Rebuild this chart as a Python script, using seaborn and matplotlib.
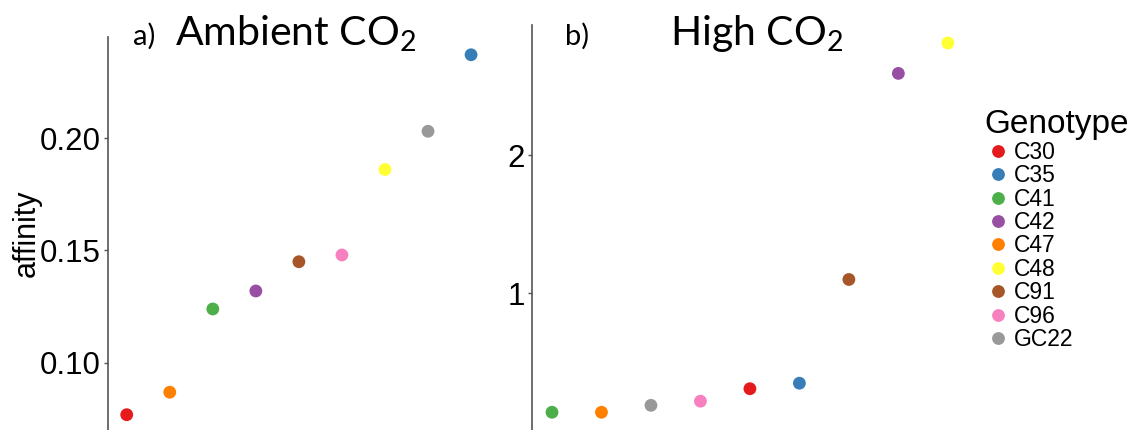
import seaborn as sns
import matplotlib.pyplot as plt
import pandas as pd

# --------------------
# Data
# --------------------
genotypes = ["C30", "C35", "C41", "C42", "C47", "C48", "C91", "C96", "GC22"]
ambient = [0.077, 0.237, 0.124, 0.132, 0.087, 0.186, 0.145, 0.148, 0.203]
high = [0.31, 0.35, 0.14, 2.59, 0.14, 2.81, 1.10, 0.22, 0.19]
set1 = ["#E41A1C", "#377EB8", "#4DAF4A", "#984EA3", "#FF7F00",
        "#FFFF33", "#A65628", "#F781BF", "#999999"]

df = pd.DataFrame({"Genotype": genotypes, "ambient": ambient, "high": high})
df["rank_amb"] = df["ambient"].rank(method="first")
df["rank_high"] = df["high"].rank(method="first")
palette = dict(zip(genotypes, set1))

sns.set_style("white")
plt.rcParams["font.family"] = ["Liberation Sans", "DejaVu Sans"]
plt.rcParams["text.color"] = "black"
plt.rcParams["axes.labelcolor"] = "black"
plt.rcParams["mathtext.fontset"] = "custom"
plt.rcParams["mathtext.rm"] = "Lato"

W, H = 1134, 430
fig = plt.figure(figsize=(W / 100, H / 100), dpi=100)

# --------------------
# Panels
# --------------------
ax1 = fig.add_axes([108 / W, 0, (490 - 108) / W, (H - 37) / H])
ax2 = fig.add_axes([532 / W, 0, (980 - 532) / W, (H - 25) / H])

sns.scatterplot(data=df, x="rank_amb", y="ambient", hue="Genotype",
                hue_order=genotypes, palette=palette, s=85, linewidth=0,
                legend=False, ax=ax1)
sns.scatterplot(data=df, x="rank_high", y="high", hue="Genotype",
                hue_order=genotypes, palette=palette, s=85, linewidth=0,
                ax=ax2)

ax1.set_xlim(0.565, 9.44)
ax1.set_ylim(0.0702, 0.2449)
ax1.set_yticks([0.10, 0.15, 0.20])
ax1.set_yticklabels(["0.10", "0.15", "0.20"])
ax2.set_xlim(0.596, 9.65)
ax2.set_ylim(0.0116, 2.94)
ax2.set_yticks([1, 2])

for ax in (ax1, ax2):
    for s in ("top", "right", "bottom"):
        ax.spines[s].set_visible(False)
    ax.spines["left"].set_color("#555555")
    ax.spines["left"].set_linewidth(1.2)
    ax.set_xticks([])
    ax.set_xlabel("")
    ax.set_ylabel("")
    ax.tick_params(axis="y", left=True, length=3, width=1, color="#555555",
                   labelsize=22.5, pad=2, labelcolor="black")

ax1.set_ylabel("affinity", fontsize=22, labelpad=-1)

# --------------------
# Titles
# --------------------
fig.text(133 / W, 1 - 45 / H, "a)", fontsize=21, family="Lato", va="baseline")
fig.text(175 / W, 1 - 45 / H, "Ambient CO$_2$", fontsize=29.5, family="Lato", va="baseline")
fig.text(565 / W, 1 - 45 / H, "b)", fontsize=21, family="Lato", va="baseline")
fig.text(670 / W, 1 - 45 / H, "High CO$_2$", fontsize=29.5, family="Lato", va="baseline")

# --------------------
# Legend
# --------------------
sns.move_legend(ax2, loc="upper left", bbox_to_anchor=(975 / W, 1 - 100 / H),
                bbox_transform=fig.transFigure, frameon=False,
                title="Genotype", fontsize=16.5, title_fontsize=24,
                handletextpad=0.1, labelspacing=0.02, borderaxespad=0,
                handlelength=1.2, alignment="left")

fig.savefig("out.png", dpi=100)
